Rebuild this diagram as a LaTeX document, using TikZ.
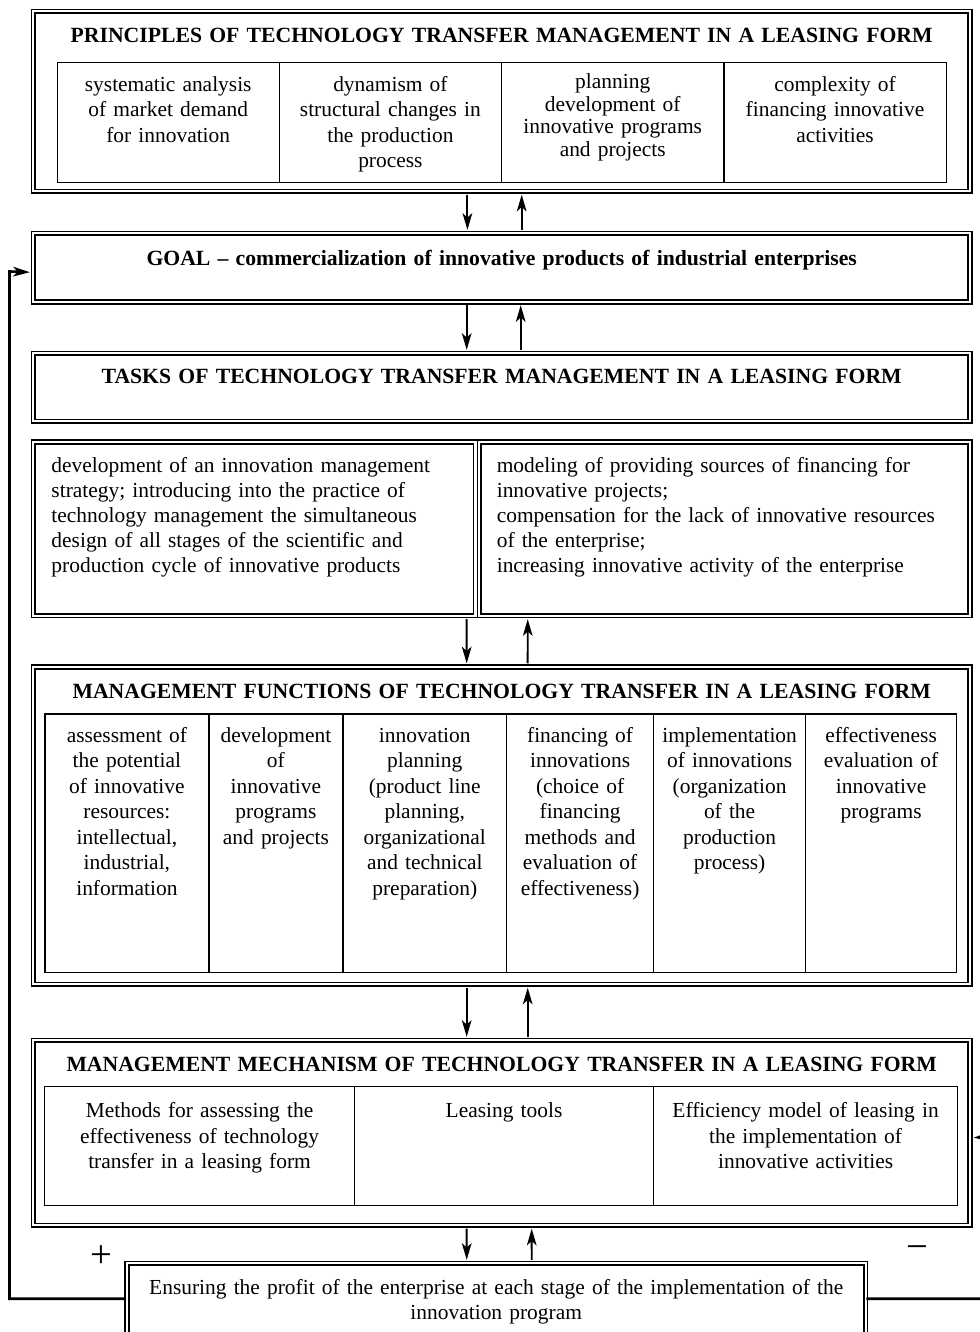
\documentclass[tikz,border=0pt]{standalone}
\usepackage{fontspec}
\setmainfont{Liberation Serif}
\usepackage{tikz}
\usetikzlibrary{positioning, calc, arrows.meta}

\tikzset{
  dbox/.style={draw, double, line width=0.9pt, double distance=1.3pt, inner sep=0pt, anchor=north west, align=center},
  cell/.style={draw, line width=0.7pt, inner sep=0pt, anchor=north west, align=center, text width=#1},
  updown/.style={line width=1.1pt, -{Stealth[length=9.5pt,width=5.5pt,inset=2.5pt]}, shorten >=1.5pt, shorten <=1.5pt},
  feedback/.style={line width=1.5pt, -{Stealth[length=9.5pt,width=5.5pt,inset=2.5pt]}, shorten >=1.5pt},
  sign/.style={inner sep=0pt, font=\fontsize{22}{24}\selectfont},
  headfont/.style={font=\fontsize{12.35}{14.5}\selectfont\bfseries}
}

\begin{document}
\begin{tikzpicture}[x=0.02cm, y=-0.02cm, font=\fontsize{12.2}{14.5}\selectfont]
  \useasboundingbox (0,0) rectangle (980,1332);
  \clip (0,0) rectangle (980,1332);

  % principles
  \node[dbox, headfont, text width=18.74cm, text height=0.624cm, text depth=2.976cm] (princ) at (32.5,10.5)
    {PRINCIPLES OF TECHNOLOGY TRANSFER MANAGEMENT IN A LEASING FORM};
  \node[cell=4.445cm, text height=0.58cm, text depth=1.82cm] (pr1) at (56.5,61.7)
    {systematic analysis\\ of market demand\\ for innovation};
  \node[cell=4.445cm, text height=0.58cm, text depth=1.82cm] (pr2) at (278.7,61.7)
    {dynamism of\\ structural changes in\\ the production\\ process};
  \node[cell=4.445cm, text height=0.52cm, text depth=1.88cm, font=\fontsize{12.2}{13}\selectfont] (pr3) at (501,61.7)
    {planning\\ development of\\ innovative programs\\ and projects};
  \node[cell=4.445cm, text height=0.58cm, text depth=1.82cm] (pr4) at (723.3,61.7)
    {complexity of\\ financing innovative\\ activities};

  % goal and tasks
  \node[dbox, headfont, text width=18.74cm, text height=0.65cm, text depth=0.72cm] (goal) at (32.5,232.5)
    {GOAL -- commercialization of innovative products of industrial enterprises};
  \node[dbox, headfont, text width=18.74cm, text height=0.61cm, text depth=0.75cm] (tasks) at (32.5,352.5)
    {TASKS OF TECHNOLOGY TRANSFER MANAGEMENT IN A LEASING FORM};
  \node[dbox, align=left, inner xsep=0.364cm, text width=8.12cm, text height=0.614cm, text depth=2.866cm,
        font=\fontsize{12.2}{14.2}\selectfont] (taskL) at (32.5,441)
    {development of an innovation management\\ strategy; introducing into the practice of\\ technology management the simultaneous\\ design of all stages of the scientific and\\ production cycle of innovative products};
  \node[dbox, align=left, inner xsep=0.35cm, text width=9.12cm, text height=0.62cm, text depth=2.86cm,
        font=\fontsize{12.2}{14.2}\selectfont] (taskR) at (478.5,441)
    {modeling of providing sources of financing for\\ innovative projects;\\ compensation for the lack of innovative resources\\ of the enterprise;\\ increasing innovative activity of the enterprise};

  % functions
  \node[dbox, headfont, text width=18.74cm, text height=0.634cm, text depth=5.716cm] (funcs) at (32.5,666)
    {MANAGEMENT FUNCTIONS OF TECHNOLOGY TRANSFER IN A LEASING FORM};
  \node[cell=3.28cm, text height=0.568cm, text depth=4.6cm] (fn1) at (44.3,713.3)
    {assessment of\\ the potential\\ of innovative\\ resources:\\ intellectual,\\ industrial,\\ information};
  \node[cell=2.68cm, text height=0.568cm, text depth=4.6cm] (fn2) at (208.3,713.3)
    {development\\ of\\ innovative\\ programs\\ and projects};
  \node[cell=3.274cm, text height=0.568cm, text depth=4.6cm] (fn3) at (342.3,713.3)
    {innovation\\ planning\\ (product line\\ planning,\\ organizational\\ and technical\\ preparation)};
  \node[cell=2.94cm, text height=0.568cm, text depth=4.6cm] (fn4) at (506,713.3)
    {financing of\\ innovations\\ (choice of\\ financing\\ methods and\\ evaluation of\\ effectiveness)};
  \node[cell=3.04cm, text height=0.568cm, text depth=4.6cm] (fn5) at (653,713.3)
    {implementation\\ of innovations\\ (organization\\ of the\\ production\\ process)};
  \node[cell=3.02cm, text height=0.568cm, text depth=4.6cm] (fn6) at (805,713.3)
    {effectiveness\\ evaluation of\\ innovative\\ programs};

  % mechanism
  \node[dbox, headfont, text width=18.74cm, text height=0.624cm, text depth=3.076cm] (mech) at (32.5,1039.5)
    {MANAGEMENT MECHANISM OF TECHNOLOGY TRANSFER IN A LEASING FORM};
  \node[cell=6.2cm, text height=0.626cm, text depth=1.754cm] (mc1) at (44,1086)
    {Methods for assessing the\\ effectiveness of technology\\ transfer in a leasing form};
  \node[cell=5.98cm, text height=0.626cm, text depth=1.754cm] (mc2) at (354,1086)
    {Leasing tools};
  \node[cell=6.08cm, text height=0.626cm, text depth=1.754cm] (mc3) at (653,1086)
    {Efficiency model of leasing in\\ the implementation of\\ innovative activities};

  % profit
  \node[dbox, text width=14.78cm, text height=0.616cm, text depth=0.804cm] (profit) at (126,1262.5)
    {Ensuring the profit of the enterprise at each stage of the implementation of the\\ innovation program};
  \node[sign] (plus) at (101,1257) {+};
  \node[sign] (minus) at (917.5,1252.7) {−};

  % links between levels
  \draw[updown] ($(princ.south)+(-34.3,0)$) -- ($(goal.north)+(-34.3,0)$);
  \draw[updown] ($(goal.north)+(20,0)$) -- ($(princ.south)+(20,0)$);
  \draw[updown] ($(goal.south)+(-35,0)$) -- ($(tasks.north)+(-35,0)$);
  \draw[updown] ($(tasks.north)+(19,0)$) -- ($(goal.south)+(19,0)$);
  \draw[updown] ($(taskL.south)+(212.25,0)$) -- ($(funcs.north)+(-35,0)$);
  \draw[updown] ($(funcs.north)+(26,0)$) -- ($(taskR.south)+(-197,0)$);
  \draw[updown] ($(funcs.south)+(-35,0)$) -- ($(mech.north)+(-35,0)$);
  \draw[updown] ($(mech.north)+(26,0)$) -- ($(funcs.south)+(26,0)$);
  \draw[updown] ($(mech.south)+(-35,0)$) -- ($(profit.north)+(-29.5,0)$);
  \draw[updown] ($(profit.north)+(35.5,0)$) -- ($(mech.south)+(30,0)$);

  % feedback
  \draw[feedback] (profit.west) -| (9.5,271.5) -- ($(goal.west)+(0,4.75)$);
  \draw[feedback] (profit.east) -| (985,1137) -- ($(mech.east)+(0,5)$);
\end{tikzpicture}
\end{document}
